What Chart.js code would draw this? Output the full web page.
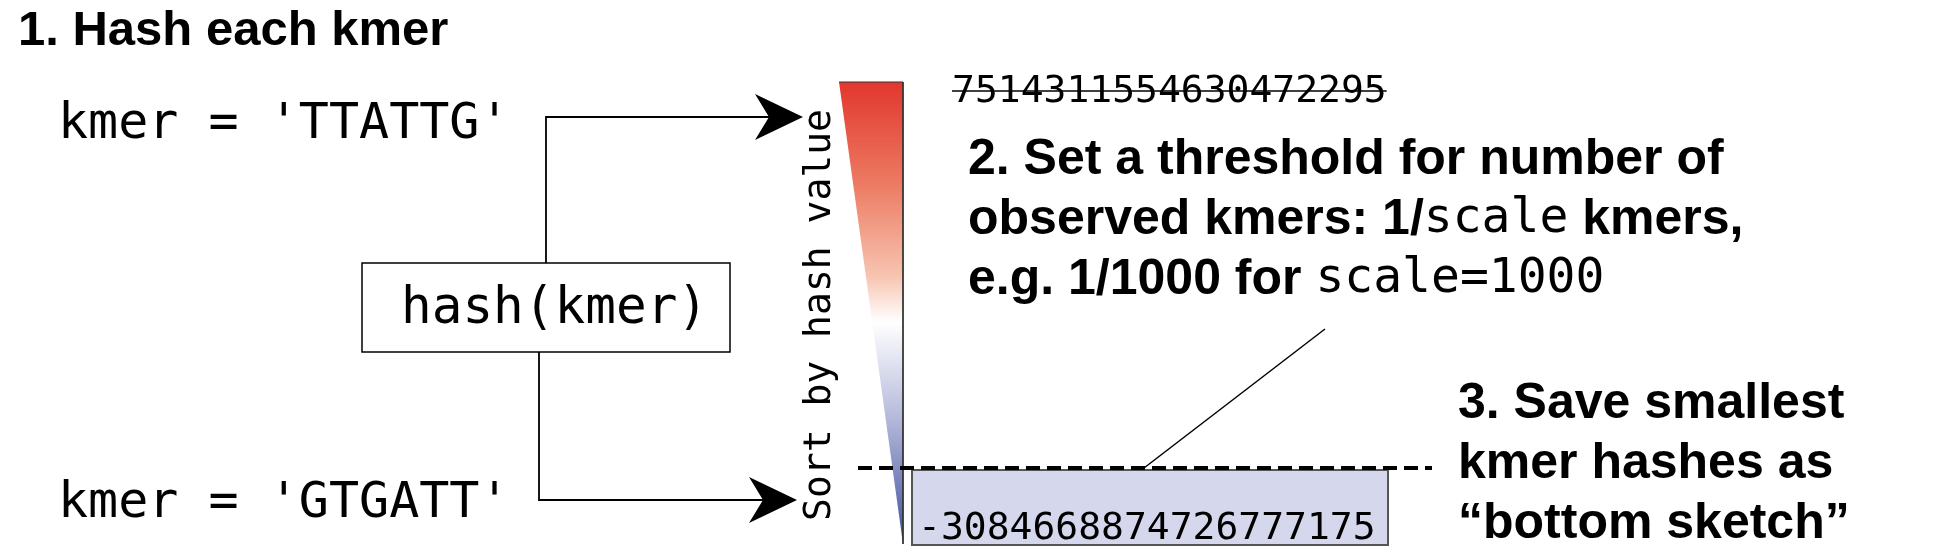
<!DOCTYPE html>
<html><head><meta charset="utf-8">
<script src="https://cdn.jsdelivr.net/npm/chart.js@4"></script>
<style>html,body{margin:0;background:#fff}#wrap{width:1951px;height:559px}</style>
</head><body><div id="wrap"><canvas id="c"></canvas></div>
<script>
const SANS = '"Liberation Sans", Arial, sans-serif';
const MONO = '"DejaVu Sans Mono", monospace';

const titleText = '1. Hash each kmer';
const kmerLabels = ["kmer = 'TTATTG'", "kmer = 'GTGATT'"];
const hashLabel = 'hash(kmer)';
const axisLabel = 'Sort by hash value';
const topHash = '7514311554630472295';
const bottomHash = '-3084668874726777175';
const step2Lines = [
  [['b', '2. Set a threshold for number of']],
  [['b', 'observed kmers: 1/'], ['m', 'scale'], ['b', ' kmers,']],
  [['b', 'e.g. 1/1000 for '], ['m', 'scale=1000']]
];
const step3Lines = ['3. Save smallest', 'kmer hashes as', '\u201cbottom sketch\u201d'];
// the sorted hash wedge: wide at the top, a point at the bottom
const wedgeX = [839, 903, 903];
const wedgeY = [82, 82, 544];

const diagram = {
  id: 'diagram',
  beforeDatasetsDraw(chart) {
    const ctx = chart.ctx, xs = chart.scales.x, ys = chart.scales.y;
    const X = v => xs.getPixelForValue(v), Y = v => ys.getPixelForValue(v);
    const g = ctx.createLinearGradient(0, Y(wedgeY[0]), 0, Y(wedgeY[2]));
    g.addColorStop(0, '#e2372e');
    g.addColorStop(0.22, '#ec7a62');
    g.addColorStop(0.42, '#f7c4b0');
    g.addColorStop(0.52, '#ffffff');
    g.addColorStop(0.72, '#b8bcdc');
    g.addColorStop(1, '#3d4e9e');
    ctx.save();
    ctx.beginPath();
    wedgeX.forEach((x, i) => i ? ctx.lineTo(X(x), Y(wedgeY[i])) : ctx.moveTo(X(x), Y(wedgeY[i])));
    ctx.closePath();
    ctx.fillStyle = g; ctx.fill();
    ctx.restore();
  },
  afterDatasetsDraw(chart) {
    const ctx = chart.ctx, xs = chart.scales.x, ys = chart.scales.y;
    const X = v => xs.getPixelForValue(v), Y = v => ys.getPixelForValue(v);
    ctx.save();
    ctx.fillStyle = '#000'; ctx.strokeStyle = '#000';
    ctx.textBaseline = 'middle';

    ctx.font = 'bold 49px ' + SANS;
    ctx.fillText(titleText, X(18), Y(31));

    ctx.font = '50px ' + MONO;
    ctx.fillText(kmerLabels[0], X(58), Y(125));
    ctx.fillText(kmerLabels[1], X(58), Y(504));

    // hash box
    ctx.lineWidth = 1.5;
    ctx.strokeRect(X(362), Y(263), X(730) - X(362), Y(352) - Y(263));
    ctx.font = '51px ' + MONO;
    ctx.fillText(hashLabel, X(401), Y(310));

    // connectors
    ctx.lineWidth = 1.8;
    ctx.beginPath();
    ctx.moveTo(X(546), Y(263)); ctx.lineTo(X(546), Y(117)); ctx.lineTo(X(770), Y(117));
    ctx.moveTo(X(539), Y(352)); ctx.lineTo(X(539), Y(500)); ctx.lineTo(X(765), Y(500));
    ctx.stroke();
    const arrow = (tx, ty) => {
      ctx.beginPath();
      ctx.moveTo(X(tx), Y(ty));
      ctx.lineTo(X(tx - 48), Y(ty - 23));
      ctx.lineTo(X(tx - 34), Y(ty));
      ctx.lineTo(X(tx - 48), Y(ty + 23));
      ctx.closePath(); ctx.fill();
    };
    arrow(803, 117); arrow(797, 500);

    // rotated axis label
    ctx.save();
    ctx.translate(X(820), Y(315));
    ctx.rotate(-Math.PI / 2);
    ctx.font = '38px ' + MONO;
    ctx.textAlign = 'center';
    ctx.fillText(axisLabel, 0, 0);
    ctx.restore();

    // top hash, struck through
    ctx.font = '38px ' + MONO;
    ctx.fillText(topHash, X(952), Y(92));
    const w = ctx.measureText(topHash).width;
    ctx.lineWidth = 1.5;
    ctx.beginPath(); ctx.moveTo(X(952), Y(91)); ctx.lineTo(X(952) + w, Y(91)); ctx.stroke();

    // step 2 text
    step2Lines.forEach((segs, i) => {
      let x = X(968);
      const y = Y(160 + i * 60);
      segs.forEach(([f, t]) => {
        ctx.font = f === 'b' ? 'bold 50px ' + SANS : '48px ' + MONO;
        ctx.fillText(t, x, y);
        x += ctx.measureText(t).width;
      });
    });
    ctx.lineWidth = 1.5;
    ctx.beginPath(); ctx.moveTo(X(1325), Y(329)); ctx.lineTo(X(1144), Y(468)); ctx.stroke();

    // bottom sketch box
    ctx.fillStyle = '#d5d7ec';
    ctx.fillRect(X(912), Y(470), X(1388) - X(912), Y(545) - Y(470));
    ctx.strokeStyle = '#555'; ctx.lineWidth = 2;
    ctx.strokeRect(X(912), Y(470), X(1388) - X(912), Y(545) - Y(470));
    ctx.fillStyle = '#000'; ctx.strokeStyle = '#000';
    ctx.font = '38px ' + MONO;
    ctx.fillText(bottomHash, X(918), Y(529));

    // threshold
    ctx.lineWidth = 4; ctx.setLineDash([14, 7]);
    ctx.beginPath(); ctx.moveTo(X(858), Y(468)); ctx.lineTo(X(1432), Y(468)); ctx.stroke();
    ctx.setLineDash([]);

    ctx.font = 'bold 50px ' + SANS;
    step3Lines.forEach((t, i) => ctx.fillText(t, X(1458), Y(404 + i * 60)));
    ctx.restore();
  }
};

new Chart(document.getElementById('c'), {
  type: 'line',
  data: {
    datasets: [{
      data: wedgeX.map((x, i) => ({ x, y: wedgeY[i] })),
      borderColor: '#333', borderWidth: 1, pointRadius: 0, tension: 0, fill: false
    }]
  },
  options: {
    responsive: true, maintainAspectRatio: false, animation: false,
    layout: { padding: 0 },
    plugins: { legend: { display: false }, tooltip: { enabled: false } },
    scales: {
      x: { type: 'linear', min: 0, max: 1951, display: false },
      y: { type: 'linear', min: 0, max: 559, reverse: true, display: false }
    }
  },
  plugins: [diagram]
});
</script></body></html>
